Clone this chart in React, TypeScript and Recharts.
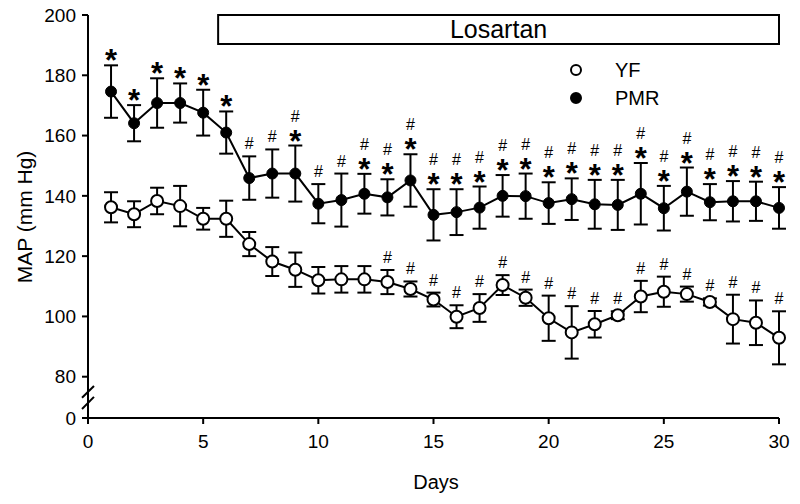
import React from 'react';
import {
  ErrorBar,
  Label,
  LabelList,
  Legend,
  Line,
  LineChart,
  ReferenceArea,
  ReferenceLine,
  XAxis,
  YAxis,
} from 'recharts';

const days = [1, 2, 3, 4, 5, 6, 7, 8, 9, 10, 11, 12, 13, 14, 15, 16, 17, 18, 19, 20, 21, 22, 23, 24, 25, 26, 27, 28, 29, 30];

const pmrMean = [174.6, 164.1, 170.8, 170.8, 167.6, 161.0, 145.9, 147.4, 147.4, 137.4, 138.6, 140.7, 139.5, 145.1, 133.7, 134.6, 136.1, 140.0, 139.9, 137.6, 138.9, 137.2, 137.0, 140.7, 135.9, 141.4, 137.9, 138.2, 138.2, 136.0];
const pmrSem = [8.7, 6.0, 8.2, 6.5, 7.6, 7.0, 7.2, 8.0, 9.3, 6.5, 8.8, 6.6, 6.0, 8.7, 8.5, 7.6, 7.0, 6.9, 7.5, 6.9, 6.9, 8.1, 8.3, 10.2, 7.4, 8.0, 6.0, 6.7, 6.5, 6.9];
const pmrMarks = ['*', '*', '*', '*', '*', '*', '#', '#', '#*', '#', '#', '#*', '#*', '#*', '#*', '#*', '#*', '#*', '#*', '#*', '#*', '#*', '#*', '#*', '#*', '#*', '#*', '#*', '#*', '#*'];

const yfMean = [136.2, 133.9, 138.3, 136.6, 132.4, 132.4, 124.0, 118.2, 115.5, 112.0, 112.3, 112.3, 111.4, 109.1, 105.6, 99.9, 102.8, 110.4, 106.2, 99.4, 94.7, 97.4, 100.4, 106.6, 108.2, 107.4, 104.8, 99.1, 97.9, 92.9];
const yfSem = [5.0, 4.3, 4.4, 6.7, 3.6, 6.0, 4.0, 4.8, 5.7, 4.4, 4.4, 4.4, 4.0, 2.5, 2.3, 3.8, 4.6, 3.3, 2.7, 7.5, 8.7, 4.4, 1.3, 5.2, 5.0, 2.5, 1.2, 8.1, 7.4, 8.8];
const yfMarks = ['', '', '', '', '', '', '', '', '', '', '', '', '#', '#', '#', '#', '#', '#', '#', '#', '#', '#', '#', '#', '#', '#', '#', '#', '#', '#'];

const xTicks = [0, 5, 10, 15, 20, 25, 30];
// the y axis is broken: the bottom tick stands for 0
const yZero = 66.3;
const yTicks = [yZero, 80, 100, 120, 140, 160, 180, 200];

const legendItems = [
  { name: 'YF', fill: '#fff' },
  { name: 'PMR', fill: '#000' },
];

const data = days.map((day, i) => ({
  day,
  pmr: pmrMean[i],
  pmrErr: pmrSem[i],
  pmrTop: pmrMean[i] + pmrSem[i],
  pmrMark: pmrMarks[i],
  yf: yfMean[i],
  yfErr: yfSem[i],
  yfTop: yfMean[i] + yfSem[i],
  yfMark: yfMarks[i],
}));

const font = '"Liberation Sans", Arial, sans-serif';

function Marks(props: any) {
  const { x, y, value } = props;
  if (!value) return null;
  const out: React.ReactNode[] = [];
  if (value.includes('*')) {
    out.push(
      <text key="s" x={x} y={y - 12 + 18} textAnchor="middle" fontSize={31} fontWeight="bold" fontFamily={font} fill="#000">
        *
      </text>,
    );
  }
  if (value.includes('#')) {
    const cy = value.includes('*') ? y - 30 : y - 13;
    out.push(
      <text key="h" x={x} y={cy + 6} textAnchor="middle" fontSize={16} fontFamily={font} fill="#000">
        #
      </text>,
    );
  }
  return <g>{out}</g>;
}

function LegendBox() {
  return (
    <div style={{ fontFamily: font, fontSize: 20, lineHeight: '28px', color: '#000' }}>
      {legendItems.map((it) => (
        <div key={it.name} style={{ display: 'flex', alignItems: 'center' }}>
          <svg width={14} height={14} style={{ marginRight: 32 }}>
            <circle cx={7} cy={7} r={5} fill={it.fill} stroke="#000" strokeWidth={2} />
          </svg>
          <span>{it.name}</span>
        </div>
      ))}
    </div>
  );
}

export default function App() {
  return (
    <div style={{ position: 'absolute', top: 0, left: 0, width: 800, height: 504, background: '#fff' }}>
      <LineChart width={800} height={504} data={data} margin={{ top: 15, right: 21, bottom: 0, left: 0 }}>
        <XAxis
          dataKey="day"
          type="number"
          domain={[0, 30]}
          ticks={xTicks}
          height={86}
          tickSize={6}
          tickMargin={11}
          stroke="#000"
          strokeWidth={2}
          tick={{ fill: '#000', fontSize: 19, fontFamily: font }}
        >
          <Label
            content={() => (
              <text x={436} y={489} textAnchor="middle" fontSize={20} fontFamily={font} fill="#000">
                Days
              </text>
            )}
          />
        </XAxis>
        <YAxis
          type="number"
          domain={[yZero, 200]}
          ticks={yTicks}
          width={88}
          tickSize={6}
          tickMargin={6}
          stroke="#000"
          strokeWidth={2}
          tickFormatter={(v: number) => (v === yZero ? '0' : String(v))}
          tick={{ fill: '#000', fontSize: 19, fontFamily: font }}
        >
          <Label
            content={() => (
              <text x={32} y={217} transform="rotate(-90 32 217)" textAnchor="middle" fontSize={21} fontFamily={font} fill="#000">
                MAP (mm Hg)
              </text>
            )}
          />
        </YAxis>
        <ReferenceArea
          x1={5.65}
          x2={30}
          y1={190.4}
          y2={200}
          fill="#fff"
          fillOpacity={1}
          stroke="#000"
          strokeWidth={2}
          ifOverflow="visible"
          label={{ value: 'Losartan', position: 'center', fontSize: 25, fontFamily: font, fill: '#000' }}
        />
        {/* axis break */}
        <ReferenceLine segment={[{ x: 0, y: 71.4 }, { x: 0, y: 74.6 }]} stroke="#fff" strokeWidth={5} ifOverflow="visible" />
        <ReferenceLine segment={[{ x: -0.26, y: 73.0 }, { x: 0.26, y: 76.9 }]} stroke="#000" strokeWidth={2} ifOverflow="visible" />
        <ReferenceLine segment={[{ x: -0.26, y: 69.3 }, { x: 0.26, y: 73.3 }]} stroke="#000" strokeWidth={2} ifOverflow="visible" />
        <Legend
          layout="vertical"
          align="center"
          verticalAlign="middle"
          wrapperStyle={{ top: 56, left: 569, width: 110 }}
          content={() => <LegendBox />}
        />
        <Line dataKey="yfTop" stroke="none" dot={false} legendType="none" isAnimationActive={false}>
          <LabelList dataKey="yfMark" content={Marks} />
        </Line>
        <Line dataKey="pmrTop" stroke="none" dot={false} legendType="none" isAnimationActive={false}>
          <LabelList dataKey="pmrMark" content={Marks} />
        </Line>
        <Line
          dataKey="yf"
          name="YF"
          stroke="#000"
          strokeWidth={2}
          dot={{ r: 6, fill: '#fff', stroke: '#000', strokeWidth: 2 }}
          isAnimationActive={false}
        >
          <ErrorBar dataKey="yfErr" width={7} stroke="#000" strokeWidth={2} direction="y" />
        </Line>
        <Line
          dataKey="pmr"
          name="PMR"
          stroke="#000"
          strokeWidth={2}
          dot={{ r: 5.5, fill: '#000', stroke: '#000', strokeWidth: 1 }}
          isAnimationActive={false}
        >
          <ErrorBar dataKey="pmrErr" width={7} stroke="#000" strokeWidth={2} direction="y" />
        </Line>
      </LineChart>
    </div>
  );
}
